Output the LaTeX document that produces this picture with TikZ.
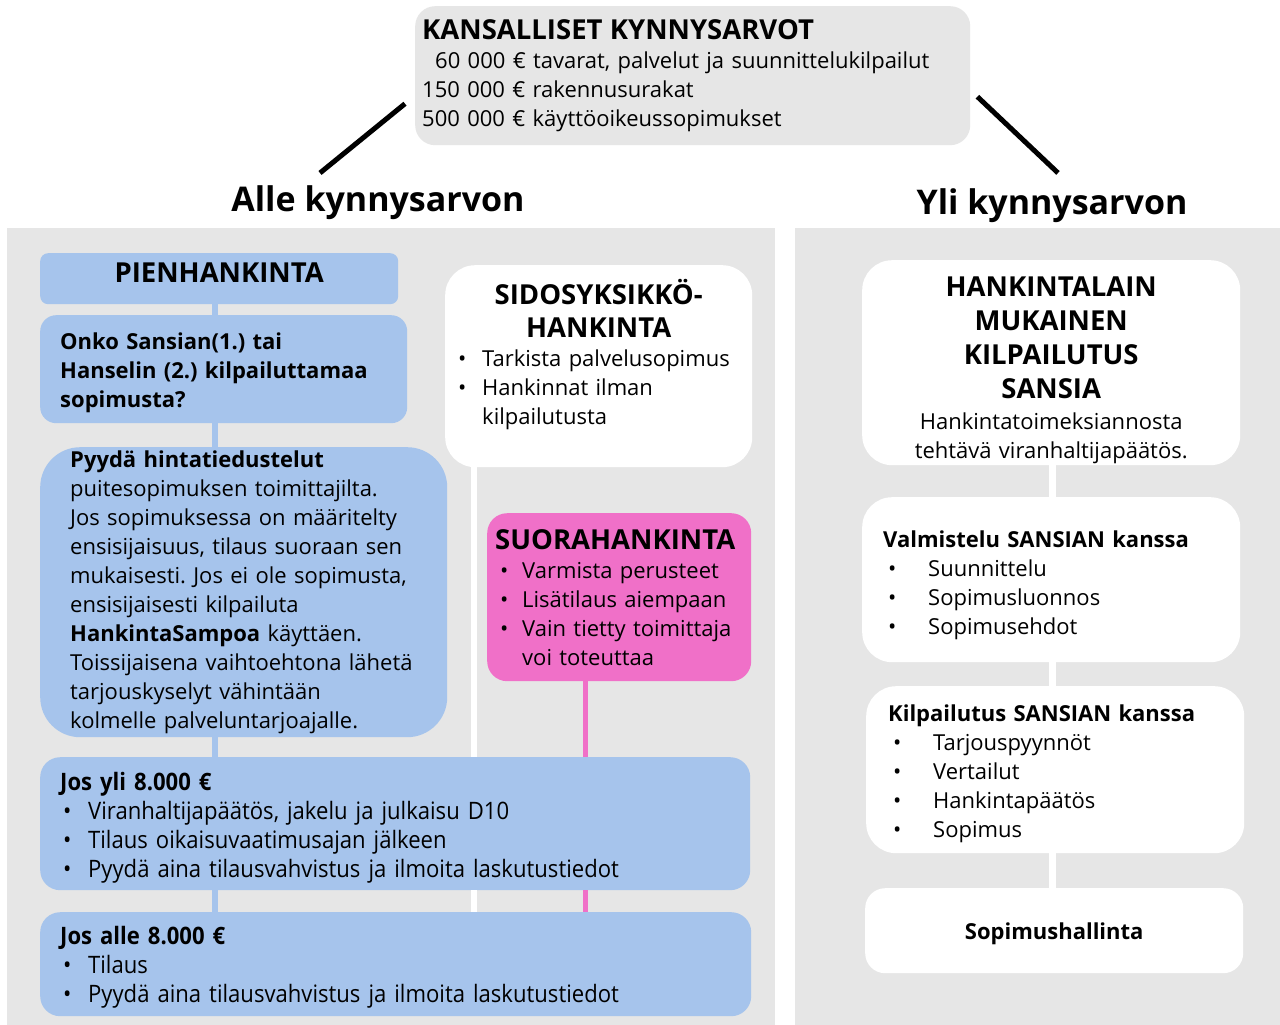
\documentclass[tikz,border=0pt]{standalone}
\usepackage{fontspec}
\setmainfont{Open Sans}
\newfontfamily\condfont[FakeStretch=0.92]{Open Sans}
\usetikzlibrary{positioning}

\definecolor{panelgray}{RGB}{230,230,230}
\definecolor{boxblue}{RGB}{166,196,236}
\definecolor{boxpink}{RGB}{240,112,200}

\newcommand{\bodyfont}{\frenchspacing\fontsize{22}{29}\selectfont}
\newcommand{\headfont}{\fontsize{27.5}{29}\selectfont\bfseries}
\newcommand{\condbody}{\frenchspacing\condfont\fontsize{24}{29}\selectfont}
\newcommand{\bul}[1][24pt]{\makebox[#1][l]{•}}

\begin{document}
\begin{tikzpicture}[x=1pt, y=-1pt,
  box/.style={anchor=north west, inner ysep=0pt, align=left, font=\bodyfont},
  bluebox/.style={box, fill=boxblue},
  whitebox/.style={box, fill=white},
  pinkbox/.style={box, fill=boxpink},
  greybox/.style={box, fill=panelgray},
  spine/.style={line width=6pt},
  pointer/.style={line width=5pt, black},
  bigtitle/.style={font=\fontsize{34}{40}\selectfont\bfseries, inner sep=0pt, anchor=base}]

\useasboundingbox (0,0) rectangle (1280,1025);
\fill[white] (0,0) rectangle (1280,1025);

% national thresholds
\node[greybox, rounded corners=20pt, minimum width=555pt, minimum height=139pt, inner xsep=7pt, text width=541pt] (kyn) at (415,6)
  {{\headfont KANSALLISET KYNNYSARVOT}\\
   \hspace*{13pt}60 000 € tavarat, palvelut ja suunnittelukilpailut\\
   150 000 € rakennusurakat\\
   500 000 € käyttöoikeussopimukset};

\node[bigtitle] (alle) at (378,211) {Alle kynnysarvon};
\node[bigtitle] (yli) at (1052,214) {Yli kynnysarvon};

\draw[pointer] ([xshift=-10pt, yshift=-28pt]kyn.west) -- ([xshift=-58pt, yshift=12pt]alle.north);
\draw[pointer] ([xshift=7pt, yshift=-21pt]kyn.east) -- ([xshift=6pt, yshift=15pt]yli.north);

% the two panels
\fill[panelgray] (7,228) rectangle (775,1025);
\fill[panelgray] (795,228) rectangle (1280,1025);

% below the threshold
\node[bluebox, rounded corners=8pt, minimum width=358pt, minimum height=51pt, inner xsep=0pt, text width=358pt, align=center, font=\headfont] (pien) at (40,253)
  {\raisebox{6pt}[\height][\depth]{PIENHANKINTA}};

\node[bluebox, rounded corners=16pt, minimum width=367pt, minimum height=108pt, inner xsep=20pt, text width=327pt, font=\bodyfont\bfseries] (onko) at (40,315)
  {\rule{0pt}{24pt}Onko Sansian(1.) tai\\ Hanselin (2.) kilpailuttamaa\\ sopimusta?};

\node[bluebox, rounded corners=40pt, minimum width=407pt, minimum height=290pt, inner xsep=30pt, text width=347pt] (pyyda) at (40,447)
  {\textbf{Pyydä hintatiedustelut}\\
   puitesopimuksen toimittajilta.\\
   Jos sopimuksessa on määritelty\\
   ensisijaisuus, tilaus suoraan sen\\
   mukaisesti. Jos ei ole sopimusta,\\
   ensisijaisesti kilpailuta\\
   \textbf{HankintaSampoa} käyttäen.\\
   Toissijaisena vaihtoehtona lähetä\\
   tarjouskyselyt vähintään\\
   kolmelle palveluntarjoajalle.};

\node[whitebox, rounded corners=30pt, minimum width=307pt, minimum height=202pt, inner xsep=13pt, text width=281pt] (sidos) at (445,265)
  {\makebox[\hsize]{\headfont SIDOSYKSIKKÖ-}\\[4pt]
   \makebox[\hsize]{\headfont HANKINTA}\\
   \bul Tarkista palvelusopimus\\
   \bul Hankinnat ilman\\
   \hspace*{24pt}kilpailutusta\\
   \mbox{}};

\node[pinkbox, rounded corners=20pt, minimum width=264pt, minimum height=168pt, inner xsep=8pt, text width=248pt] (suora) at (487,513)
  {{\headfont SUORAHANKINTA}\\
   \hspace*{5pt}\bul[22pt]Varmista perusteet\\
   \hspace*{5pt}\bul[22pt]Lisätilaus aiempaan\\
   \hspace*{5pt}\bul[22pt]Vain tietty toimittaja\\
   \hspace*{27pt}voi toteuttaa};

\node[bluebox, rounded corners=20pt, minimum width=710pt, minimum height=133pt, inner xsep=20pt, text width=670pt, font=\condbody] (josyli) at (40,757)
  {\rule{0pt}{26pt}\textbf{Jos yli 8.000 €}\\
   \hspace*{3pt}\bul[25pt]Viranhaltijapäätös, jakelu ja julkaisu D10\\
   \hspace*{3pt}\bul[25pt]Tilaus oikaisuvaatimusajan jälkeen\\
   \hspace*{3pt}\bul[25pt]Pyydä aina tilausvahvistus ja ilmoita laskutustiedot};

\node[bluebox, rounded corners=20pt, minimum width=711pt, minimum height=104pt, inner xsep=20pt, text width=671pt, font=\condbody] (josalle) at (40,912)
  {\rule{0pt}{24pt}\textbf{Jos alle 8.000 €}\\
   \hspace*{3pt}\bul[25pt]Tilaus\\
   \hspace*{3pt}\bul[25pt]Pyydä aina tilausvahvistus ja ilmoita laskutustiedot};

% connectors on the left
\coordinate (lspine) at (215,0);
\coordinate (wspine) at (474,0);
\coordinate (pspine) at (585,0);
\draw[spine, boxblue] (pien.south -| lspine) -- (onko.north -| lspine);
\draw[spine, boxblue] (onko.south -| lspine) -- (pyyda.north -| lspine);
\draw[spine, boxblue] (pyyda.south -| lspine) -- (josyli.north -| lspine);
\draw[spine, boxblue] (josyli.south -| lspine) -- (josalle.north -| lspine);
\draw[spine, white] (sidos.south -| wspine) -- (josyli.north -| wspine);
\draw[spine, white] (josyli.south -| wspine) -- (josalle.north -| wspine);
\draw[line width=5pt, boxpink] (suora.south -| pspine) -- (josyli.north -| pspine);
\draw[line width=5pt, boxpink] (josyli.south -| pspine) -- (josalle.north -| pspine);

% above the threshold
\node[whitebox, rounded corners=30pt, minimum width=378pt, minimum height=205pt, inner xsep=10pt, text width=358pt, align=center] (laki) at (862,260)
  {\rule{0pt}{34pt}{\headfont HANKINTALAIN}\\[5pt]
   {\headfont MUKAINEN}\\[5pt]
   {\headfont KILPAILUTUS}\\[5pt]
   {\headfont SANSIA}\\[2pt]
   Hankintatoimeksiannosta\\
   tehtävä viranhaltijapäätös.};

\node[whitebox, rounded corners=30pt, minimum width=378pt, minimum height=165pt, inner xsep=21pt, text width=336pt] (valm) at (862,497)
  {\rule{0pt}{27pt}\textbf{Valmistelu SANSIAN kanssa}\\
   \hspace*{5pt}\bul[40pt]Suunnittelu\\
   \hspace*{5pt}\bul[40pt]Sopimusluonnos\\
   \hspace*{5pt}\bul[40pt]Sopimusehdot};

\node[whitebox, rounded corners=30pt, minimum width=378pt, minimum height=167pt, inner xsep=22pt, text width=334pt] (kilp) at (866,686)
  {\rule{0pt}{25pt}\textbf{Kilpailutus SANSIAN kanssa}\\
   \hspace*{5pt}\bul[40pt]Tarjouspyynnöt\\
   \hspace*{5pt}\bul[40pt]Vertailut\\
   \hspace*{5pt}\bul[40pt]Hankintapäätös\\
   \hspace*{5pt}\bul[40pt]Sopimus};

\node[whitebox, rounded corners=20pt, minimum width=378pt, minimum height=85pt, inner xsep=10pt, text width=358pt, align=center, font=\bodyfont\bfseries] (hallinta) at (865,888)
  {\rule{0pt}{22pt}Sopimushallinta};

% connectors on the right
\coordinate (rspine) at (1052,0);
\draw[line width=7pt, white] (laki.south -| rspine) -- (valm.north -| rspine);
\draw[line width=7pt, white] (valm.south -| rspine) -- (kilp.north -| rspine);
\draw[line width=7pt, white] (kilp.south -| rspine) -- (hallinta.north -| rspine);

\end{tikzpicture}
\end{document}
